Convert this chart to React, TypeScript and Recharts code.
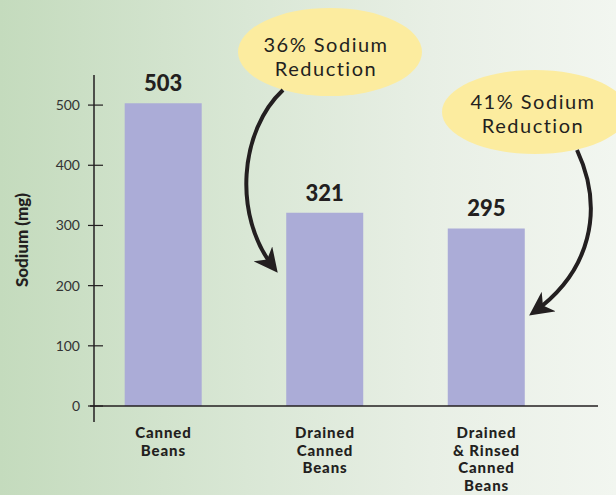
import React from 'react';
import { BarChart, Bar, XAxis, YAxis, LabelList } from 'recharts';

const categories = ['Canned Beans', 'Drained Canned Beans', 'Drained & Rinsed Canned Beans'];
const categoryLines = [['Canned', 'Beans'], ['Drained', 'Canned', 'Beans'], ['Drained', '& Rinsed', 'Canned', 'Beans']];
const sodium = [503, 321, 295];
const yTicks = [0, 100, 200, 300, 400, 500];

const data = categories.map((name, i) => ({ name, pos: i, sodium: sodium[i] }));

const FONT = 'Lato, "DejaVu Sans", sans-serif';
const INK = '#231f20';

const YTick = (props: any) => {
  const { x, y, payload } = props;
  return (
    <g>
      <line x1={x - 6} x2={x + 9} y1={y} y2={y} stroke={INK} strokeWidth={1.2} />
      <text x={x - 14} y={y} dy={5} textAnchor="end" fontSize={14} fill="#333" fontFamily={FONT}>
        {payload.value}
      </text>
    </g>
  );
};

const XTick = (props: any) => {
  const { x, y, payload } = props;
  const lines = categoryLines[payload.value] || [];
  return (
    <g>
      {lines.map((l, i) => (
        <text
          key={i}
          x={x}
          y={y + 32 + i * 17.5}
          textAnchor="middle"
          fontSize={15}
          fontWeight={900}
          letterSpacing={0.9}
          fill={INK}
          fontFamily={FONT}
        >
          {l}
        </text>
      ))}
    </g>
  );
};

const ValueLabel = (props: any) => {
  const { x, y, width, value } = props;
  return (
    <text x={x + width / 2} y={y - 12} textAnchor="middle" fontSize={22} fontWeight={900} fill={INK} fontFamily={FONT}>
      {value}
    </text>
  );
};

const Callout = ({ x, y, lines }: { x: number; y: number; lines: string[] }) => (
  <g>
    {lines.map((l, i) => (
      <text key={i} x={x} y={y + i * 24} textAnchor="middle" fontSize={20} letterSpacing={1.5} fill={INK} fontFamily={FONT}>
        {l}
      </text>
    ))}
  </g>
);

export default function App() {
  return (
    <div
      style={{
        position: 'absolute',
        left: 0,
        top: 0,
        width: 616,
        height: 495,
        background: 'linear-gradient(90deg, #c4dbbd 0%, #d9e7d5 40%, #e8efe5 70%, #f2f6f0 100%)',
        fontFamily: FONT,
      }}
    >
      <BarChart width={616} height={495} data={data} margin={{ top: 75, right: 18, bottom: 0, left: 0 }}>
        <XAxis
          type="number"
          dataKey="pos"
          domain={[-0.43, 2.69]}
          ticks={[0, 1, 2]}
          allowDataOverflow
          height={89}
          tickLine={false}
          tickSize={0}
          tickMargin={0}
          axisLine={{ stroke: INK, strokeWidth: 1.5 }}
          tick={<XTick />}
          interval={0}
        />
        <YAxis
          domain={[0, 550]}
          ticks={yTicks}
          width={94}
          tickLine={false}
          tickSize={0}
          tickMargin={0}
          axisLine={{ stroke: INK, strokeWidth: 1.5 }}
          tick={<YTick />}
        />
        <Bar dataKey="sodium" fill="#abacd7" barSize={77} isAnimationActive={false}>
          <LabelList dataKey="sodium" content={<ValueLabel />} />
        </Bar>
      </BarChart>
      <svg width={616} height={495} style={{ position: 'absolute', left: 0, top: 0, pointerEvents: 'none' }}>
        <defs>
          <marker id="head" viewBox="0 0 12 12" refX={9} refY={6} markerWidth={6} markerHeight={6} orient="auto">
            <path d="M0,0 L12,6 L0,12 L3.5,6 z" fill={INK} />
          </marker>
        </defs>
        <line x1={90} x2={94} y1={406} y2={406} stroke={INK} strokeWidth={1.5} />
        <line x1={94} x2={94} y1={406} y2={422} stroke={INK} strokeWidth={1.5} />
        <text
          transform="translate(28,240) rotate(-90)"
          textAnchor="middle"
          fontSize={17}
          fontWeight={900}
          fill={INK}
          fontFamily={FONT}
        >
          Sodium (mg)
        </text>
        <ellipse cx={330} cy={52} rx={92} ry={44} fill="#fcec9f" />
        <Callout x={326} y={52} lines={['36% Sodium', 'Reduction']} />
        <ellipse cx={535} cy={112} rx={93} ry={42} fill="#fcec9f" />
        <Callout x={533} y={109} lines={['41% Sodium', 'Reduction']} />
        <path d="M 283 90 C 240 130, 232 215, 274 268" fill="none" stroke={INK} strokeWidth={4} markerEnd="url(#head)" />
        <path d="M 577 150 C 605 210, 590 272, 534 312" fill="none" stroke={INK} strokeWidth={4} markerEnd="url(#head)" />
      </svg>
    </div>
  );
}
